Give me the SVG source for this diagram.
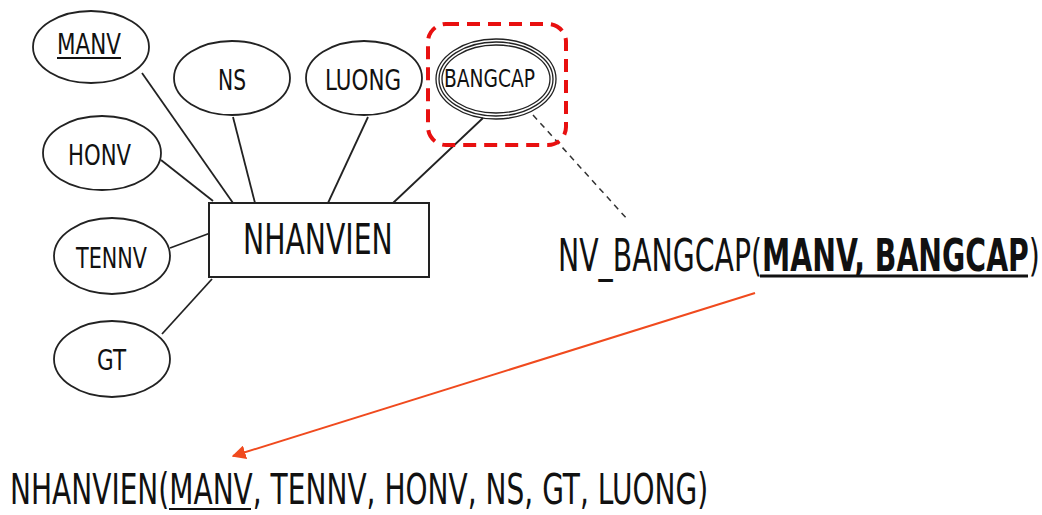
<svg xmlns="http://www.w3.org/2000/svg" width="1042" height="515" viewBox="0 0 1042 515">
<style>
.e{fill:#fff;stroke:#222;stroke-width:1.8}
.b{fill:none;stroke:#222;stroke-width:1.3}
.t{font-family:"DejaVu Sans",sans-serif;fill:#111}
.c{stroke:#222;stroke-width:1.8;fill:none}
</style>
<defs>
<marker id="ah" viewBox="0 0 10 10" refX="9" refY="5" markerWidth="14" markerHeight="14" markerUnits="userSpaceOnUse" orient="auto">
<path d="M0,0 L10,5 L0,10 z" fill="#F04A1E"/>
</marker>
</defs>
<g id="connectors">
<line class="c" x1="142" y1="73" x2="233" y2="203"/>
<line class="c" x1="161" y1="160" x2="213" y2="201"/>
<line class="c" x1="233" y1="117" x2="255" y2="203"/>
<line class="c" x1="368" y1="117" x2="328" y2="203"/>
<line class="c" x1="483" y1="118" x2="393" y2="203"/>
<line class="c" x1="170" y1="248" x2="213" y2="232"/>
<line class="c" x1="162" y1="334" x2="212" y2="279"/>
<line x1="533" y1="115" x2="628" y2="220" stroke="#333" stroke-width="1.5" stroke-dasharray="6 5"/>
<line x1="755" y1="293" x2="233" y2="456" stroke="#F04A1E" stroke-width="2" marker-end="url(#ah)"/>
</g>
<g id="highlight">
<rect x="428" y="24" width="138" height="121" rx="18" fill="none" stroke="#E81010" stroke-width="4" stroke-dasharray="13 8"/>
</g>
<g id="node-MANV">
<ellipse class="e" cx="91" cy="47" rx="58" ry="36"/>
<text class="t" x="57" y="54" font-size="29" textLength="64" lengthAdjust="spacingAndGlyphs">MANV</text>
<line x1="57" y1="58" x2="121" y2="58" stroke="#111" stroke-width="2"/>
</g>
<g id="node-NS">
<ellipse class="e" cx="232" cy="78" rx="58" ry="37"/>
<text class="t" x="218" y="90" font-size="29" textLength="28" lengthAdjust="spacingAndGlyphs">NS</text>
</g>
<g id="node-LUONG">
<ellipse class="e" cx="364" cy="78" rx="58" ry="37"/>
<text class="t" x="325" y="90" font-size="29" textLength="76" lengthAdjust="spacingAndGlyphs">LUONG</text>
</g>
<g id="node-BANGCAP">
<ellipse class="b" cx="496" cy="79" rx="60" ry="40" fill="#fff"/>
<ellipse class="b" cx="496" cy="79" rx="57" ry="37"/>
<ellipse class="b" cx="496" cy="79" rx="54" ry="34"/>
<text class="t" x="444" y="87" font-size="25" textLength="91" lengthAdjust="spacingAndGlyphs">BANGCAP</text>
</g>
<g id="node-HONV">
<ellipse class="e" cx="102" cy="153" rx="59" ry="37"/>
<text class="t" x="68" y="165" font-size="29" textLength="63" lengthAdjust="spacingAndGlyphs">HONV</text>
</g>
<g id="node-TENNV">
<ellipse class="e" cx="112" cy="256" rx="58" ry="38"/>
<text class="t" x="76" y="268" font-size="29" textLength="71" lengthAdjust="spacingAndGlyphs">TENNV</text>
</g>
<g id="node-GT">
<ellipse class="e" cx="112" cy="359" rx="58" ry="38"/>
<text class="t" x="97" y="370" font-size="29" textLength="29" lengthAdjust="spacingAndGlyphs">GT</text>
</g>
<g id="node-NHANVIEN">
<rect x="209" y="203" width="220" height="74" fill="#fff" stroke="#222" stroke-width="2"/>
<text class="t" transform="translate(243,254) scale(0.72,1)" font-size="42" textLength="208" lengthAdjust="spacingAndGlyphs">NHANVIEN</text>
</g>
<g id="text-NV_BANGCAP">
<text class="t" transform="translate(558,271) scale(0.64,1)" font-size="44" textLength="753" lengthAdjust="spacingAndGlyphs">NV_BANGCAP(<tspan font-weight="bold">MANV, BANGCAP</tspan>)</text>
<line x1="760" y1="276" x2="1028" y2="276" stroke="#111" stroke-width="3"/>
</g>
<g id="text-NHANVIEN">
<text class="t" transform="translate(10,504) scale(0.665,1)" font-size="42" textLength="1050" lengthAdjust="spacingAndGlyphs">NHANVIEN(MANV, TENNV, HONV, NS, GT, LUONG)</text>
<line x1="169" y1="509" x2="251" y2="509" stroke="#111" stroke-width="2"/>
</g>
</svg>
